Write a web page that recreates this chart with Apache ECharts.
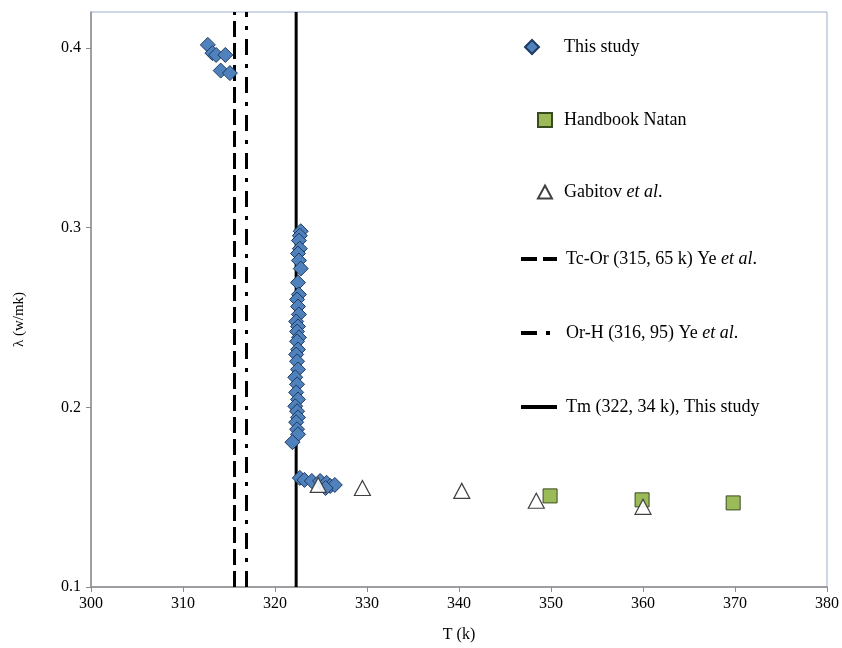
<!DOCTYPE html>
<html>
<head>
<meta charset="utf-8">
<script src="https://cdn.jsdelivr.net/npm/echarts@6/dist/echarts.min.js"></script>
<style>
html,body{margin:0;padding:0;background:#fff;}
#chart{width:842px;height:648px;}
</style>
</head>
<body>
<div id="chart"></div>
<script>
// ---- data ----
const xTicks = [300, 310, 320, 330, 340, 350, 360, 370, 380];
const yTicks = [0.1, 0.2, 0.3, 0.4];

// This study (T, lambda)
const studyT = [312.7, 313.2, 313.6, 314.6, 314.1, 315.1,
  322.8, 322.7, 322.6, 322.7, 322.5, 322.6, 322.8, 322.5, 322.6, 322.4, 322.5, 322.6, 322.3, 322.5,
  322.4, 322.6, 322.4, 322.5, 322.3, 322.4, 322.5, 322.2, 322.4, 322.3, 322.5, 322.2, 322.4, 322.5,
  322.3, 322.4, 322.5, 321.9,
  322.7, 323.2, 324.0, 324.9, 325.6, 326.0, 326.5, 325.5];
const studyL = [0.4017, 0.3971, 0.3961, 0.3961, 0.3874, 0.3860,
  0.2980, 0.2955, 0.2928, 0.2883, 0.2856, 0.2817, 0.2772, 0.2694, 0.2628, 0.2600, 0.2561, 0.2517, 0.2478, 0.2450,
  0.2422, 0.2389, 0.2367, 0.2322, 0.2294, 0.2256, 0.2211, 0.2167, 0.2128, 0.2083, 0.2044, 0.2006, 0.1978, 0.1944,
  0.1917, 0.1878, 0.1850, 0.1806,
  0.1607, 0.1596, 0.1590, 0.1590, 0.1580, 0.1562, 0.1568, 0.1551];

// Handbook Natan
const natanT = [349.9, 359.9, 369.8];
const natanL = [0.1507, 0.1485, 0.1468];

// Gabitov et al.
const gabitovT = [324.7, 329.5, 340.3, 348.4, 360.0];
const gabitovL = [0.1568, 0.1551, 0.1535, 0.1480, 0.1446];

// transition temperatures (vertical lines)
const tcOrT = 315.6;
const orHT = 316.9;
const tmT = 322.3;
const yMin = 0.1, yMax = 0.42;

const names = ['This study', 'Handbook Natan', 'Gabitov et al.',
  'Tc-Or (315, 65 k) Ye et al.', 'Or-H (316, 95) Ye et al.', 'Tm (322, 34 k), This study'];

function zip(a, b) { return a.map((v, i) => [v, b[i]]); }
function vline(t) { return [[t, yMin], [t, yMax]]; }

const FONT = 'Liberation Serif';
const legendRich = {
  n: { fontFamily: FONT, fontSize: 18, color: '#000' },
  i: { fontFamily: FONT, fontSize: 18, color: '#000', fontStyle: 'italic' }
};
function fmt(name) {
  return name.split('et al').map(p => '{n|' + p + '}').join('{i|et al}');
}
function mkLegend(name, left, cy, w, h, pad, isLine) {
  const l = {
    data: [name], left: left, top: cy - 9, padding: 0,
    itemWidth: w, itemHeight: h, itemGap: 0,
    selectedMode: false,
    formatter: fmt,
    textStyle: { rich: legendRich, padding: [0, 0, 0, pad] }
  };
  if (isLine) {
    l.itemStyle = { color: 'transparent', borderColor: 'transparent', opacity: 0 };
    l.lineStyle = { width: 4 };
  }
  return l;
}

const chart = echarts.init(document.getElementById('chart'));
chart.setOption({
  animation: false,
  backgroundColor: '#fff',
  grid: { left: 91, right: 14, top: 12, bottom: 60, show: true, borderColor: '#9BB0C8', borderWidth: 1 },
  legend: [
    mkLegend(names[0], 524, 47, 14, 14, 20, false),
    mkLegend(names[1], 537, 120, 14, 14, 7, false),
    mkLegend(names[2], 537, 192, 14, 13, 7, false),
    mkLegend(names[3], 519, 259, 36, 14, 4, true),
    mkLegend(names[4], 519, 333, 36, 14, 4, true),
    mkLegend(names[5], 519, 407, 36, 14, 4, true)
  ],
  xAxis: {
    type: 'value', min: 300, max: 380, interval: 10,
    name: 'T (k)', nameLocation: 'middle', nameGap: 40,
    nameTextStyle: { fontFamily: FONT, fontSize: 16, color: '#000' },
    axisLine: { lineStyle: { color: '#8C8C8C', width: 1.5 } },
    axisTick: { show: true, length: 5, lineStyle: { color: '#8C8C8C' } },
    axisLabel: { fontFamily: FONT, fontSize: 16, color: '#000', margin: 9 },
    splitLine: { show: false }
  },
  yAxis: {
    type: 'value', min: yMin, max: yMax,
    name: 'λ (w/mk)', nameLocation: 'middle', nameGap: 64, nameRotate: 90,
    nameTextStyle: { fontFamily: FONT, fontSize: 15, color: '#000', padding: [0, 0, 0, -40] },
    axisLine: { show: true, lineStyle: { color: '#8C8C8C', width: 1.5 } },
    axisTick: { show: true, length: 5, lineStyle: { color: '#8C8C8C' }, customValues: yTicks },
    axisLabel: { fontFamily: FONT, fontSize: 16, color: '#000', margin: 10,
      customValues: yTicks, formatter: v => v.toFixed(1) },
    splitLine: { show: false }
  },
  series: [
    { name: names[3], type: 'line', data: vline(tcOrT), symbol: 'none', silent: true, z: 1,
      lineStyle: { color: '#000', width: 3, type: [16, 6] }, itemStyle: { color: '#000' } },
    { name: names[4], type: 'line', data: vline(orHT), symbol: 'none', silent: true, z: 1,
      lineStyle: { color: '#000', width: 3, type: [16, 9, 4, 9] }, itemStyle: { color: '#000' } },
    { name: names[5], type: 'line', data: vline(tmT), symbol: 'none', silent: true, z: 1,
      lineStyle: { color: '#000', width: 3 }, itemStyle: { color: '#000' } },
    { name: names[0], type: 'scatter', data: zip(studyT, studyL), symbol: 'diamond', symbolSize: 15, z: 3,
      itemStyle: { color: '#4F81BD', borderColor: '#1F3A60', borderWidth: 1, opacity: 1 } },
    { name: names[1], type: 'scatter', data: zip(natanT, natanL), symbol: 'rect', symbolSize: 14, z: 3,
      itemStyle: { color: '#9BBB59', borderColor: '#3A4A20', borderWidth: 1, opacity: 1 } },
    { name: names[2], type: 'scatter', data: zip(gabitovT, gabitovL), symbol: 'triangle', symbolSize: [16, 15], z: 4,
      itemStyle: { color: 'rgba(255,255,255,0.9)', borderColor: '#404040', borderWidth: 1.2, opacity: 1 } }
  ]
});
</script>
</body>
</html>
